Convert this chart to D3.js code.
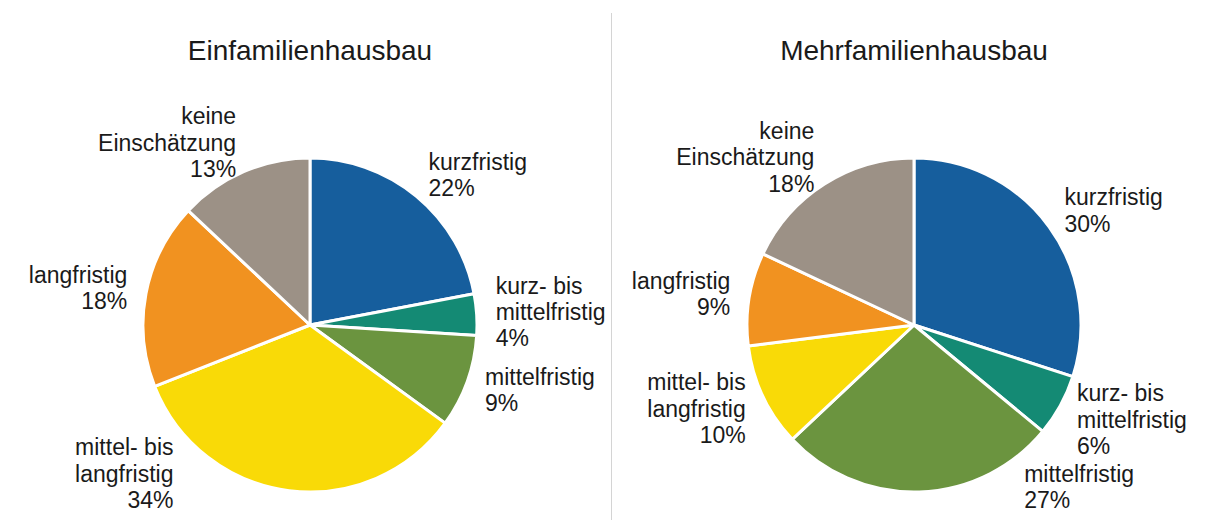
<!DOCTYPE html>
<html>
<head>
<meta charset="utf-8">
<script src="https://cdn.jsdelivr.net/npm/d3@7"></script>
<style>
  body { margin: 0; background: #fff; }
  text { font-family: "Liberation Sans", Arial, sans-serif; fill: #1a1a1a; }
</style>
</head>
<body>
<div id="chart"></div>
<script>
// Data
const categories = [
  "kurzfristig",
  "kurz- bis mittelfristig",
  "mittelfristig",
  "mittel- bis langfristig",
  "langfristig",
  "keine Einschätzung",
];
const labelLines = [
  ["kurzfristig"],
  ["kurz- bis", "mittelfristig"],
  ["mittelfristig"],
  ["mittel- bis", "langfristig"],
  ["langfristig"],
  ["keine", "Einschätzung"],
];
const einfamilienValues = [22, 4, 9, 34, 18, 13];
const mehrfamilienValues = [30, 6, 27, 10, 9, 18];
const chartTitles = ["Einfamilienhausbau", "Mehrfamilienhausbau"];

const sliceColors = ["#165e9d", "#148a74", "#6b943f", "#f9da07", "#f19220", "#9c9186"];

const width = 1209;
const height = 520;
const radius = 167;
const labelRadius = 186;
const cornerRadius = 175;
const fontSize = 23;
const lineH = 26.5;
const bottomLimit = 514;

const svg = d3
  .select("#chart")
  .append("svg")
  .attr("width", width)
  .attr("height", height);

// divider between the two charts
svg
  .append("line")
  .attr("x1", 611.5)
  .attr("x2", 611.5)
  .attr("y1", 13)
  .attr("y2", height)
  .attr("stroke", "#d4d4d4")
  .attr("stroke-width", 1);

const color = d3.scaleOrdinal().domain(categories).range(sliceColors);
const pie = d3.pie().sort(null).value((d) => d.value);
const arc = d3.arc().innerRadius(0).outerRadius(radius);

function drawPie(values, title, cx, cy) {
  const data = categories.map((c, i) => ({ cat: c, lines: labelLines[i], value: values[i] }));
  const g = svg.append("g").attr("transform", `translate(${cx}, ${cy})`);

  g.selectAll("path")
    .data(pie(data))
    .enter()
    .append("path")
    .attr("d", arc)
    .attr("fill", (d) => color(d.data.cat))
    .attr("stroke", "#fff")
    .attr("stroke-width", 3)
    .attr("stroke-linejoin", "round");

  // title
  svg
    .append("text")
    .attr("x", cx)
    .attr("y", 60)
    .attr("text-anchor", "middle")
    .style("font-size", "28px")
    .text(title);

  // labels, outside end of each slice
  pie(data).forEach((d) => {
    const a = (d.startAngle + d.endAngle) / 2;
    const lines = d.data.lines.concat([d.data.value + "%"]);
    const h = lines.length * lineH;
    const right = Math.sin(a) >= 0;
    let x = labelRadius * Math.sin(a);
    let yMid = -labelRadius * Math.cos(a) - 0.15 * h * Math.cos(a);
    // keep inside the chart area, slide outward along the pie
    if (cy + yMid + h / 2 > bottomLimit) {
      yMid = bottomLimit - cy - h / 2;
      const dy = yMid - h / 2;
      const dx = Math.sqrt(Math.max(0, cornerRadius * cornerRadius - dy * dy));
      x = right ? dx : -dx;
    }
    const t = g
      .append("text")
      .attr("text-anchor", right ? "start" : "end")
      .style("font-size", fontSize + "px");
    lines.forEach((l, i) => {
      t.append("tspan")
        .attr("x", x)
        .attr("y", yMid - h / 2 + (i + 1) * lineH - 0.22 * lineH)
        .text(l);
    });
  });
}

drawPie(einfamilienValues, chartTitles[0], 310, 325);
drawPie(mehrfamilienValues, chartTitles[1], 914, 325);
</script>
</body>
</html>
